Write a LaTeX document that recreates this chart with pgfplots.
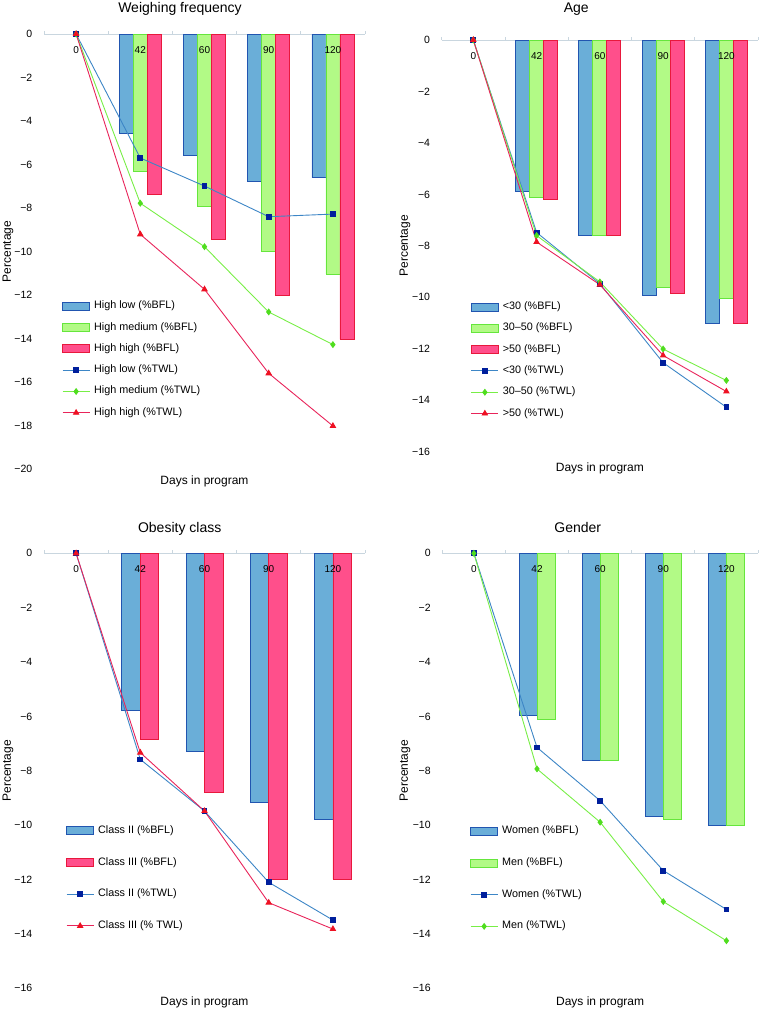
\documentclass[border=0pt]{standalone}
\usepackage{fontspec}
\setmainfont{Liberation Sans}
\usepackage{pgfplots}
\pgfplotsset{compat=1.18}

\definecolor{fB}{HTML}{6AAED8}
\definecolor{dB}{HTML}{2155B0}
\definecolor{fG}{HTML}{B2FA86}
\definecolor{dG}{HTML}{66E63C}
\definecolor{fR}{HTML}{FF4F8B}
\definecolor{dR}{HTML}{E8183C}
\definecolor{lB}{HTML}{3D86C6}
\definecolor{mB}{HTML}{001F9C}
\definecolor{lG}{HTML}{78EE46}
\definecolor{mG}{HTML}{4FDD1E}
\definecolor{lR}{HTML}{E8245A}
\definecolor{mR}{HTML}{EE1122}
\definecolor{axg}{HTML}{C9D6DF}

\tikzset{catlab/.style={font=\fontsize{10}{12}\selectfont, yshift=-15.7pt, inner sep=0pt}}
\newcommand\catlabels{%
  \node[catlab] at (axis cs:0,0) {0};
  \node[catlab] at (axis cs:1,0) {42};
  \node[catlab] at (axis cs:2,0) {60};
  \node[catlab] at (axis cs:3,0) {90};
  \node[catlab] at (axis cs:4,0) {120};
}

\pgfplotsset{
  mylinelegend/.style={legend image code/.code={\draw[mark repeat=2,mark phase=2,##1] plot coordinates {(0pt,0pt)(13.5pt,0pt)(27pt,0pt)};}},
  mybarlegend/.style={legend image code/.code={\draw[##1] (0pt,-4pt) rectangle (27pt,4pt);}},
  barB/.style={ybar, fill=fB, draw=dB, line width=0.8pt, mybarlegend},
  barG/.style={ybar, fill=fG, draw=dG, line width=0.8pt, mybarlegend},
  barR/.style={ybar, fill=fR, draw=dR, line width=0.8pt, mybarlegend},
  lineB/.style={color=lB, line width=0.9pt, mark=square*, mark size=2.4pt, mark options={draw=mB, fill=mB, solid}, mylinelegend},
  lineG/.style={color=lG, line width=0.9pt, mark=diamond*, mark size=2.8pt, mark options={draw=mG, fill=mG, solid}, mylinelegend},
  lineR/.style={color=lR, line width=0.9pt, mark=triangle*, mark size=3pt, mark options={draw=mR, fill=mR, solid}, mylinelegend},
  panel/.style={scale only axis, clip=false, xmin=-0.5, xmax=4.5, ymax=0,
    axis x line*=top, axis y line*=left,
    y axis line style={draw=none}, ytick style={draw=none},
    x axis line style={draw=axg, line width=0.8pt},
    xtick={-0.5,0.5,...,4.5}, xticklabels={},
    xtick style={draw=axg, line width=0.8pt},
    tick align=outside, major tick length=3pt,
    yticklabel style={font=\fontsize{10.5}{12}\selectfont, inner sep=0pt, xshift=-8.5pt, anchor=east},
    xlabel={Days in program}, ylabel={Percentage},
    every axis title/.style={font=\fontsize{14}{16}\selectfont, anchor=base},
    every axis x label/.style={at={(axis description cs:0.5,0)}, anchor=base, font=\fontsize{12}{14}\selectfont},
    every axis y label/.style={rotate=90, anchor=center, font=\fontsize{12}{14}\selectfont},
    legend cell align=left,
    legend style={draw=none, fill=none, anchor=north west, inner sep=0pt,
      font=\fontsize{10.8}{12}\selectfont,
      nodes={inner sep=0pt, text height=7.5pt, text depth=2.5pt}, column sep=4pt},
  },
}

\begin{document}
\begin{tikzpicture}
\useasboundingbox (0,0) rectangle (760pt,-1009pt);

% Panel 1: Weighing frequency
\begin{axis}[panel, at={(44pt,-34pt)}, anchor=north west, width=321pt, height=435pt,
  ymin=-20, ytick={-20,-18,...,0},
  yticklabels={−20,−18,−16,−14,−12,−10,−8,−6,−4,−2,0},
  title={Weighing frequency},
  title style={at={(axis description cs:0.4237,1)}, yshift=22pt},
  xlabel style={yshift=-15pt},
  ylabel style={at={(axis description cs:-0.112,0.5)}},
  legend style={at={(axis description cs:0.056,0.386)}, row sep=11.3pt}]
\addplot[barB, bar width=14pt, bar shift=-14pt] coordinates {(1,-4.57)(2,-5.58)(3,-6.79)(4,-6.6)};
\addplot[barG, bar width=14pt, bar shift=0pt] coordinates {(1,-6.3)(2,-7.94)(3,-10.0)(4,-11.03)};
\addplot[barR, bar width=14pt, bar shift=14pt] coordinates {(1,-7.37)(2,-9.43)(3,-12.0)(4,-14.04)};
\addplot[lineB] coordinates {(0,0)(1,-5.7)(2,-6.99)(3,-8.4)(4,-8.28)};
\addplot[lineG] coordinates {(0,0)(1,-7.78)(2,-9.78)(3,-12.78)(4,-14.28)};
\addplot[lineR] coordinates {(0,0)(1,-9.21)(2,-11.74)(3,-15.6)(4,-18.02)};
\legend{High low (\%BFL),High medium (\%BFL),High high (\%BFL),High low (\%TWL),High medium (\%TWL),High high (\%TWL)}
\catlabels
\end{axis}

% Panel 2: Age
\begin{axis}[panel, at={(441.7pt,-40pt)}, anchor=north west, width=316.3pt, height=411.7pt,
  ymin=-16, ytick={-16,-14,...,0},
  yticklabels={−16,−14,−12,−10,−8,−6,−4,−2,0},
  title={Age},
  title style={at={(axis description cs:0.4255,1)}, yshift=28pt},
  xlabel style={yshift=-20pt},
  ylabel style={at={(axis description cs:-0.116,0.5)}},
  legend style={at={(axis description cs:0.0917,0.364)}, row sep=11.3pt}]
\addplot[barB, bar width=14pt, bar shift=-14pt] coordinates {(1,-5.88)(2,-7.61)(3,-9.92)(4,-11.03)};
\addplot[barG, bar width=14pt, bar shift=0pt] coordinates {(1,-6.12)(2,-7.6)(3,-9.62)(4,-10.05)};
\addplot[barR, bar width=14pt, bar shift=14pt] coordinates {(1,-6.2)(2,-7.6)(3,-9.86)(4,-11.03)};
\addplot[lineB] coordinates {(0,0)(1,-7.48)(2,-9.47)(3,-12.54)(4,-14.27)};
\addplot[lineG] coordinates {(0,0)(1,-7.6)(2,-9.4)(3,-12.01)(4,-13.23)};
\addplot[lineR] coordinates {(0,0)(1,-7.85)(2,-9.51)(3,-12.26)(4,-13.66)};
\legend{<30 (\%BFL),30–50 (\%BFL),>50 (\%BFL),<30 (\%TWL),30–50 (\%TWL),>50 (\%TWL)}
\catlabels
\end{axis}

% Panel 3: Obesity class
\begin{axis}[panel, at={(44pt,-553.3pt)}, anchor=north west, width=321pt, height=435pt,
  ymin=-16, ytick={-16,-14,...,0},
  yticklabels={−16,−14,−12,−10,−8,−6,−4,−2,0},
  title={Obesity class},
  title style={at={(axis description cs:0.4227,1)}, yshift=21.3pt},
  xlabel style={yshift=-17pt},
  ylabel style={at={(axis description cs:-0.112,0.5)}},
  legend style={at={(axis description cs:0.0685,0.374)}, row sep=21.7pt}]
\addplot[barB, bar width=18.5pt, bar shift=-9.25pt] coordinates {(1,-5.76)(2,-7.27)(3,-9.16)(4,-9.78)};
\addplot[barR, bar width=18.5pt, bar shift=9.25pt] coordinates {(1,-6.84)(2,-8.79)(3,-11.98)(4,-11.98)};
\addplot[lineB] coordinates {(0,0)(1,-7.58)(2,-9.48)(3,-12.1)(4,-13.49)};
\addplot[lineR] coordinates {(0,0)(1,-7.33)(2,-9.48)(3,-12.85)(4,-13.82)};
\legend{Class II (\%BFL),Class III (\%BFL),Class II (\%TWL),Class III (\% TWL)}
\catlabels
\end{axis}

% Panel 4: Gender
\begin{axis}[panel, at={(442.3pt,-553.3pt)}, anchor=north west, width=315.7pt, height=435pt,
  ymin=-16, ytick={-16,-14,...,0},
  yticklabels={−16,−14,−12,−10,−8,−6,−4,−2,0},
  title={Gender},
  title style={at={(axis description cs:0.429,1)}, yshift=21.3pt},
  xlabel style={yshift=-17pt},
  ylabel style={at={(axis description cs:-0.118,0.5)}},
  legend style={at={(axis description cs:0.0877,0.373)}, row sep=21.7pt}]
\addplot[barB, bar width=18pt, bar shift=-9pt] coordinates {(1,-5.96)(2,-7.6)(3,-9.69)(4,-10.02)};
\addplot[barG, bar width=18pt, bar shift=9pt] coordinates {(1,-6.1)(2,-7.6)(3,-9.78)(4,-10.02)};
\addplot[lineB] coordinates {(0,0)(1,-7.14)(2,-9.1)(3,-11.67)(4,-13.1)};
\addplot[lineG] coordinates {(0,0)(1,-7.93)(2,-9.89)(3,-12.81)(4,-14.25)};
\legend{Women (\%BFL),Men (\%BFL),Women (\%TWL),Men (\%TWL)}
\catlabels
\end{axis}
\end{tikzpicture}
\end{document}
